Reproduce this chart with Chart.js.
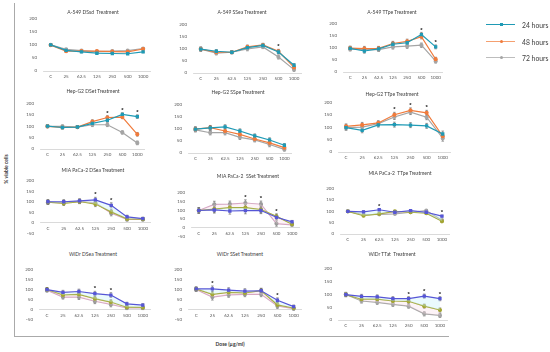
<!DOCTYPE html>
<html>
<head>
<meta charset="utf-8">
<script src="https://cdn.jsdelivr.net/npm/chart.js@4.4.0/dist/chart.umd.min.js"></script>
<style>
  body { margin: 0; width: 550px; height: 352px; background: #fff; position: relative; overflow: hidden; font-family: Lato, "Liberation Sans", sans-serif; }
  .pn { position: absolute; }
  .ttl { position: absolute; font-size: 5px; color: #404040; white-space: pre; transform: translate(-50%, -50%); }
  .frame { position: absolute; left: 14px; top: 3px; width: 434px; height: 333px; border-left: 1px solid #aaa; border-bottom: 1px solid #aaa; }
  .lg { position: absolute; height: 1px; }
  .lgm { position: absolute; width: 3px; height: 3px; }
  .lgt { position: absolute; font-size: 6.8px; color: #404040; white-space: nowrap; transform: translateY(-50%); }
  .axl { position: absolute; font-size: 5px; font-weight: bold; color: #333; white-space: nowrap; }
</style>
</head>
<body>
<div class="frame"></div>
<div class="axl" style="left:6px;top:169px;transform:translate(-50%,-50%) rotate(-90deg);">% viable cells</div>
<div class="axl" style="left:230px;top:344px;transform:translate(-50%,-50%);">Dose (µg/ml)</div>
<script>
// dosi e serie (% cellule vitali)
const doses = ['C', '25', '62.5', '125', '250', '500', '1000'];
const seriesNames = ['24 hours', '48 hours', '72 hours'];

const a549DSsd24 = [100, 79, 73, 68, 67, 66, 73];
const a549DSsd48 = [99, 76, 76, 76, 74, 73, 84];
const a549DSsd72 = [100, 83, 78, 74, 76, 78, 86];
const a549DSsdErr = [4, 3, 3, 3, 3, 3, 3];
const a549DSsdStars = [];

const a549SSea24 = [99, 90, 86, 105, 114, 87, 32];
const a549SSea48 = [99, 86, 86, 108, 116, 90, 23];
const a549SSea72 = [99, 82, 86, 100, 108, 66, 14];
const a549SSeaErr = [8, 7, 6, 8, 7, 8, 7];
const a549SSeaStars = [5];

const a549TTpe24 = [98, 87, 96, 115, 121, 155, 104];
const a549TTpe48 = [99, 97, 98, 118, 127, 146, 53];
const a549TTpe72 = [95, 93, 93, 104, 107, 111, 45];
const a549TTpeErr = [8, 9, 8, 9, 9, 9, 8];
const a549TTpeStars = [5, 6];

const hepDSet24 = [101, 95, 97, 113, 127, 153, 143];
const hepDSet48 = [100, 95, 97, 121, 139, 141, 65];
const hepDSet72 = [100, 100, 97, 107, 107, 73, 27];
const hepDSetErr = [6, 6, 6, 8, 8, 7, 8];
const hepDSetStars = [4, 5, 6];

const hepSSpe24 = [99, 104, 108, 91, 71, 54, 32];
const hepSSpe48 = [99, 105, 91, 77, 58, 42, 22];
const hepSSpe72 = [96, 84, 84, 65, 54, 35, 15];
const hepSSpeErr = [9, 9, 9, 9, 8, 9, 7];
const hepSSpeStars = [];

const hepTTpe24 = [99, 88, 110, 111, 109, 106, 73];
const hepTTpe48 = [104, 110, 118, 151, 169, 159, 64];
const hepTTpe72 = [99, 101, 115, 142, 162, 141, 56];
const hepTTpeErr = [10, 10, 9, 10, 10, 10, 12];
const hepTTpeStars = [3, 4, 5];

const miaDSea24 = [100, 100, 104, 109, 83, 28, 20];
const miaDSea48 = [98, 92, 101, 89, 52, 19, 17];
const miaDSea72 = [97, 96, 102, 95, 45, 16, 16];
const miaDSeaErr = [10, 10, 10, 12, 12, 8, 7];
const miaDSeaStars = [3, 4];

const miaSSet24 = [98, 101, 95, 97, 98, 59, 33];
const miaSSet48 = [98, 106, 114, 114, 103, 64, 20];
const miaSSet72 = [98, 133, 134, 141, 134, 23, 16];
const miaSSetErr = [15, 18, 18, 18, 18, 15, 8];
const miaSSetStars = [3, 4, 5];

const miaTTpe24 = [100, 98, 107, 96, 103, 96, 79];
const miaTTpe48 = [100, 81, 89, 100, 96, 92, 56];
const miaTTpe72 = [100, 85, 87, 89, 96, 103, 61];
const miaTTpeErr = [3, 4, 4, 4, 4, 4, 4];
const miaTTpeStars = [2, 6];

const widrDSea24 = [100, 86, 90, 79, 72, 28, 21];
const widrDSea48 = [100, 73, 76, 54, 37, 11, 10];
const widrDSea72 = [97, 62, 62, 41, 25, 7, 7];
const widrDSeaErr = [10, 10, 12, 12, 12, 8, 8];
const widrDSeaStars = [3, 4];

const widrSSet24 = [103, 103, 97, 92, 94, 46, 14];
const widrSSet48 = [103, 76, 86, 83, 94, 23, 7];
const widrSSet72 = [100, 62, 73, 76, 76, 17, 4];
const widrSSetErr = [10, 15, 12, 12, 12, 12, 8];
const widrSSetStars = [1, 5];

const widrTTat24 = [99, 92, 90, 83, 83, 93, 83];
const widrTTat48 = [99, 81, 81, 74, 73, 54, 39];
const widrTTat72 = [100, 74, 69, 61, 54, 24, 18];
const widrTTatErr = [8, 8, 8, 8, 8, 8, 8];
const widrTTatStars = [4, 5, 6];

// palette: righe 1-2 teal/arancio/grigio, righe 3-4 blu/oliva/rosa
const palettes = [
  ['#1f9ab5', '#f07b3c', '#a5a5a5'],
  ['#5656d6', '#a4a632', '#d2a4c0'],
  ['#5656d6', '#a4a632', '#a5a5a5']
];

// box = [sinistra, destra, pixel di 200, pixel del minimo]
const panels = [
  { title: 'A-549 DSsd  Treatment', s: [a549DSsd24, a549DSsd48, a549DSsd72], err: a549DSsdErr, stars: a549DSsdStars, min: 0, box: [43, 154, 14, 71], t: [93, 12], pal: 0 },
  { title: 'A-549 SSea Treatment', s: [a549SSea24, a549SSea48, a549SSea72], err: a549SSeaErr, stars: a549SSeaStars, min: 0, box: [193, 305, 20, 73], t: [242, 12], pal: 0 },
  { title: 'A-549 TTpe Treatment', s: [a549TTpe24, a549TTpe48, a549TTpe72], err: a549TTpeErr, stars: a549TTpeStars, min: 0, box: [343, 446, 19, 72], t: [392, 12], pal: 0 },
  { title: 'Hep-G2 DSet Treatment', s: [hepDSet24, hepDSet48, hepDSet72], err: hepDSetErr, stars: hepDSetStars, min: 0, box: [40, 148, 99, 149], t: [93, 91], pal: 0 },
  { title: 'Hep-G2 SSpe Treatment', s: [hepSSpe24, hepSSpe48, hepSSpe72], err: hepSSpeErr, stars: hepSSpeStars, min: 0, box: [188, 295, 100, 153], t: [238, 92], pal: 0 },
  { title: 'Hep-G2 TTpe Treatment', s: [hepTTpe24, hepTTpe48, hepTTpe72], err: hepTTpeErr, stars: hepTTpeStars, min: 0, box: [338, 454, 98, 152], t: [392, 94], pal: 0 },
  { title: 'MIA PaCa-2 DSea Treatment', s: [miaDSea24, miaDSea48, miaDSea72], err: miaDSeaErr, stars: miaDSeaStars, min: -50, box: [40, 154, 176, 239], t: [93, 170], pal: 1, band: true },
  { title: 'MIA PaCa-2  SSet Treatment', s: [miaSSet24, miaSSet48, miaSSet72], err: miaSSetErr, stars: miaSSetStars, min: -50, box: [191, 303, 188, 242], t: [248, 176], pal: 1, band: true },
  { title: 'MIA PaCa-2  TTpe Treatment', s: [miaTTpe24, miaTTpe48, miaTTpe72], err: miaTTpeErr, stars: miaTTpeStars, min: 0, box: [340, 453, 184, 234], t: [400, 173], pal: 2, band: true },
  { title: 'WiDr DSea Treatment', s: [widrDSea24, widrDSea48, widrDSea72], err: widrDSeaErr, stars: widrDSeaStars, min: -50, box: [39, 154, 265, 325], t: [93, 254], pal: 1, band: true },
  { title: 'WiDr SSet Treatment', s: [widrSSet24, widrSSet48, widrSSet72], err: widrSSetErr, stars: widrSSetStars, min: -50, box: [188, 305, 265, 325], t: [240, 254], pal: 1, band: true },
  { title: 'WiDr TTat  Treatment', s: [widrTTat24, widrTTat48, widrTTat72], err: widrTTatErr, stars: widrTTatStars, min: 0, box: [338, 451, 264, 320], t: [392, 254], pal: 2, band: true }
];

// barre d'errore sotto le linee, asterischi sopra
const errPlugin = {
  id: 'errbars',
  beforeDatasetsDraw(chart, args, opts) {
    const { ctx } = chart;
    const y = chart.scales.y;
    ctx.save();
    ctx.strokeStyle = '#595959';
    ctx.lineWidth = 0.6;
    chart.data.datasets.forEach((ds, i) => {
      const meta = chart.getDatasetMeta(i);
      ds.data.forEach((v, j) => {
        const px = meta.data[j].x;
        const y1 = y.getPixelForValue(v - opts.err[j]);
        const y2 = y.getPixelForValue(v + opts.err[j]);
        ctx.beginPath();
        ctx.moveTo(px, y1); ctx.lineTo(px, y2);
        ctx.moveTo(px - 1.3, y1); ctx.lineTo(px + 1.3, y1);
        ctx.moveTo(px - 1.3, y2); ctx.lineTo(px + 1.3, y2);
        ctx.stroke();
      });
    });
    ctx.restore();
  },
  afterDatasetsDraw(chart, args, opts) {
    const { ctx } = chart;
    const y = chart.scales.y;
    const meta = chart.getDatasetMeta(0);
    ctx.save();
    ctx.fillStyle = '#222';
    ctx.font = 'bold 6px "Liberation Sans"';
    ctx.textAlign = 'center';
    ctx.textBaseline = 'middle';
    opts.stars.forEach(j => {
      const top = Math.max(...chart.data.datasets.map(d => d.data[j])) + opts.err[j];
      ctx.fillText('*', meta.data[j].x, y.getPixelForValue(top) - 2.5);
    });
    ctx.restore();
  }
};

function makePanel(p) {
  const [L, R, yTop, yMin] = p.box;
  const yw = 20, padT = 4, padB = p.min < 0 ? 3 : 10;
  const w = R - L + yw + 2, h = yMin - yTop + padT + padB;
  const wrap = document.createElement('div');
  wrap.className = 'pn';
  wrap.style.left = (L - yw) + 'px';
  wrap.style.top = (yTop - padT) + 'px';
  const cv = document.createElement('canvas');
  cv.width = w; cv.height = h;
  cv.style.width = w + 'px'; cv.style.height = h + 'px';
  wrap.appendChild(cv);
  document.body.appendChild(wrap);

  const t = document.createElement('div');
  t.className = 'ttl';
  t.style.left = p.t[0] + 'px';
  t.style.top = p.t[1] + 'px';
  t.textContent = p.title;
  document.body.appendChild(t);

  const cols = palettes[p.pal];
  const datasets = p.s.map((vals, i) => ({
    label: seriesNames[i],
    data: vals,
    borderColor: cols[i],
    backgroundColor: i === 0 ? 'rgba(195,240,250,0.35)' : 'rgba(250,215,228,0.3)',
    pointBackgroundColor: i === 2 && p.pal === 1 ? '#9a9a9a' : cols[i],
    pointBorderColor: i === 2 && p.pal === 1 ? '#9a9a9a' : cols[i],
    pointStyle: i === 0 ? 'rect' : 'circle',
    pointRadius: 1.5,
    borderWidth: 1.2,
    tension: 0,
    fill: p.band && i < 2 ? '+1' : false
  }));

  const tickFont = { family: 'Lato, "Liberation Sans"', size: 4.5 };
  new Chart(cv, {
    type: 'line',
    data: { labels: doses, datasets: datasets },
    options: {
      responsive: false,
      animation: false,
      layout: { padding: { top: padT, bottom: padB, left: 0, right: 2 } },
      plugins: {
        legend: { display: false },
        tooltip: { enabled: false },
        errbars: { err: p.err, stars: p.stars }
      },
      scales: {
        x: {
          type: 'category',
          offset: true,
          position: { y: 0 },
          grid: { display: false, drawTicks: false },
          border: { display: true, color: '#d0d0d0', width: 0.8 },
          ticks: { font: tickFont, color: '#595959', padding: 3, maxRotation: 0, autoSkip: false }
        },
        y: {
          min: p.min,
          max: 200,
          afterFit(s) { s.width = yw; },
          grid: { display: false, drawTicks: false },
          border: { display: false },
          ticks: { stepSize: 50, font: tickFont, color: '#595959', padding: 6 }
        }
      }
    },
    plugins: [errPlugin]
  });
}

panels.forEach(makePanel);

// legenda a destra
const legendRows = [24, 41, 57];
const legendLine = ['#1f9ab5', '#f5a070', '#bdbdbd'];
const legendMark = ['#1f9ab5', '#f07b3c', '#a5a5a5'];
legendRows.forEach((ly, i) => {
  const ln = document.createElement('div');
  ln.className = 'lg';
  ln.style.cssText = `left:486px;top:${ly}px;width:29px;background:${legendLine[i]};`;
  document.body.appendChild(ln);
  const mk = document.createElement('div');
  mk.className = 'lgm';
  mk.style.cssText = `left:500px;top:${ly - 1}px;background:${legendMark[i]};` + (i > 0 ? 'border-radius:50%;' : '');
  document.body.appendChild(mk);
  const tx = document.createElement('div');
  tx.className = 'lgt';
  tx.style.cssText = `left:522px;top:${ly + 0.5}px;`;
  tx.textContent = seriesNames[i];
  document.body.appendChild(tx);
});
</script>
</body>
</html>
